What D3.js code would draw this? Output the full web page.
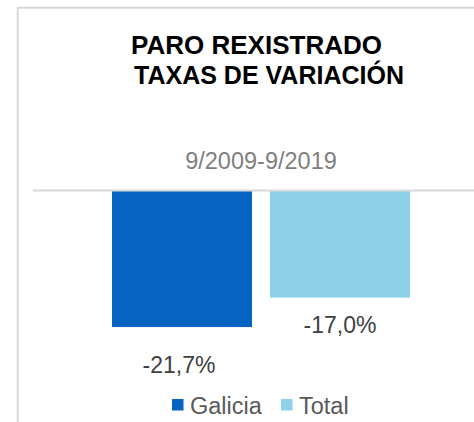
<!DOCTYPE html>
<html>
<head>
<meta charset="utf-8">
<script src="https://cdn.jsdelivr.net/npm/d3@7"></script>
<style>
  body { margin: 0; background: #fff; }
  svg { display: block; font-family: "Liberation Sans", Arial, sans-serif; }
</style>
</head>
<body>
<div id="chart"></div>
<script>
// chart data
var series = ["Galicia", "Total"];
var values = [-21.7, -17.0];
var colors = ["#0563c1", "#8fd1e8"];
var titleLines = ["PARO REXISTRADO", "TAXAS DE VARIACIÓN"];
var subtitle = "9/2009-9/2019";

var width = 474, height = 422;

var svg = d3.select("#chart").append("svg")
    .attr("width", width)
    .attr("height", height);

// outer frame (only top and left edges show)
svg.append("rect")
    .attr("x", 17.7)
    .attr("y", 7.7)
    .attr("width", 500)
    .attr("height", 500)
    .attr("fill", "none")
    .attr("stroke", "#d9d9d9")
    .attr("stroke-width", 2);

// titles
svg.append("text")
    .attr("x", 256.5).attr("y", 54)
    .attr("text-anchor", "middle")
    .style("font-size", "26px").style("font-weight", "bold")
    .attr("fill", "#000")
    .text(titleLines[0]);
svg.append("text")
    .attr("x", 269).attr("y", 84)
    .attr("text-anchor", "middle")
    .style("font-size", "25px").style("font-weight", "bold")
    .attr("fill", "#000")
    .text(titleLines[1]);
svg.append("text")
    .attr("x", 261).attr("y", 168.5)
    .attr("text-anchor", "middle")
    .style("font-size", "23.5px")
    .attr("fill", "#7f7f7f")
    .text(subtitle);

// scales
var x = d3.scaleBand().domain(series).range([112, 410]).paddingInner(18 / 158);
var y = d3.scaleLinear().domain([-25, 0]).range([347.75, 191]);

// bars
svg.selectAll("rect.bar")
    .data(series)
  .enter().append("rect")
    .attr("class", "bar")
    .attr("x", function(d) { return x(d); })
    .attr("y", y(0))
    .attr("width", x.bandwidth())
    .attr("height", function(d, i) { return y(values[i]) - y(0); })
    .attr("fill", function(d, i) { return colors[i]; });

// zero line
svg.append("line")
    .attr("x1", 33).attr("x2", width)
    .attr("y1", y(0) - 0.5).attr("y2", y(0) - 0.5)
    .attr("stroke", "#d9d9d9")
    .attr("stroke-width", 2);

// data labels (Galicia label sits lower in the original)
var labelOffset = {Galicia: 46, Total: 35};
var fmt = function(v) { return d3.format(".1f")(v).replace(".", ",").replace("−", "-") + "%"; };
svg.selectAll("text.lbl")
    .data(series)
  .enter().append("text")
    .attr("class", "lbl")
    .attr("x", function(d) { return x(d) + x.bandwidth() / 2 - (d == "Galicia" ? 3 : 0); })
    .attr("y", function(d, i) { return y(values[i]) + labelOffset[d]; })
    .attr("text-anchor", "middle")
    .style("font-size", "23px")
    .attr("fill", "#404040")
    .text(function(d, i) { return fmt(values[i]); });

// legend
var legendX = [172, 281];
var lg = svg.selectAll("g.legend")
    .data(series)
  .enter().append("g")
    .attr("class", "legend")
    .attr("transform", function(d, i) { return "translate(" + legendX[i] + ",399)"; });
lg.append("rect")
    .attr("width", 11.5).attr("height", 11.5)
    .attr("fill", function(d, i) { return colors[i]; });
lg.append("text")
    .attr("x", 18).attr("y", 15)
    .style("font-size", "23.5px")
    .attr("fill", "#595959")
    .text(function(d) { return d; });
</script>
</body>
</html>
